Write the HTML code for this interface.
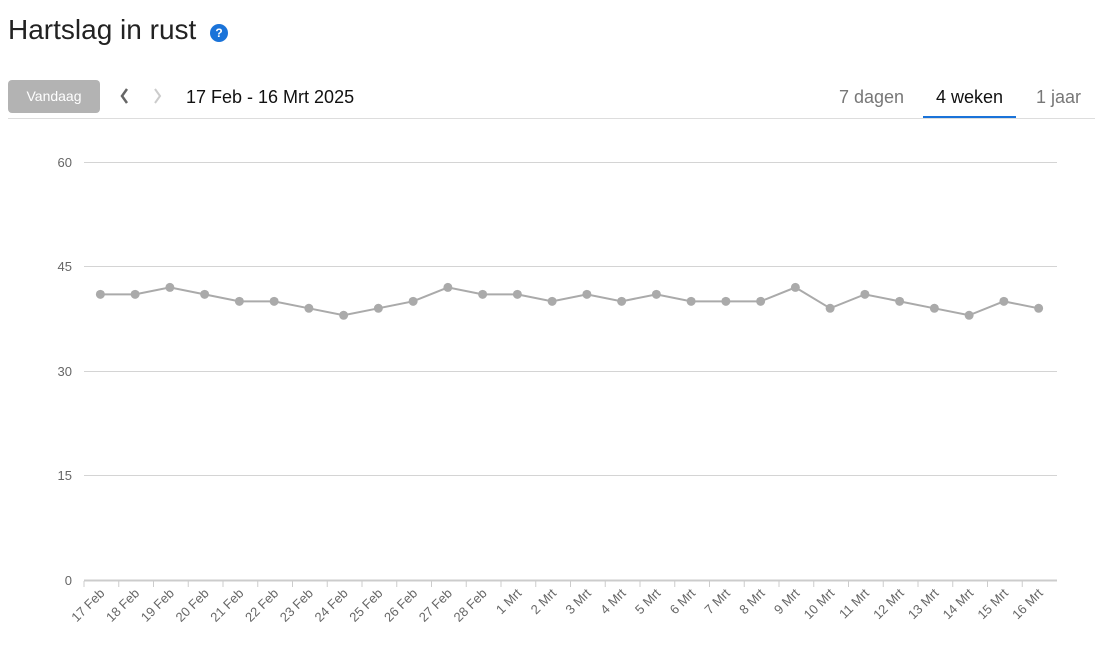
<!DOCTYPE html>
<html><head><meta charset="utf-8"><style>
body{margin:0;width:1095px;height:645px;background:#fff;font-family:"Liberation Sans",sans-serif;position:relative;overflow:hidden}
.t{position:absolute;left:8px;top:14px;font-size:28px;color:#222;font-weight:normal}
.q{position:absolute;left:210px;top:24px;width:18px;height:18px;border-radius:50%;background:#1a73d9;color:#fff;font-size:12px;font-weight:bold;text-align:center;line-height:18px}
.btn{position:absolute;left:8px;top:80px;width:92px;height:33px;border-radius:4px;background:#b3b3b3;color:#fff;font-size:14px;text-align:center;line-height:33px}
.d{position:absolute;left:186px;top:87px;font-size:18px;color:#111}
.tab{position:absolute;top:87px;font-size:18px;color:#777}
.line{position:absolute;left:8px;top:118px;width:1087px;height:1px;background:#ddd}
.ul{position:absolute;left:923px;top:116px;width:93px;height:2px;background:#1a73d9}
</style></head><body>
<div class="t">Hartslag in rust</div><div class="q">?</div>
<div class="btn">Vandaag</div>
<svg width="60" height="30" style="position:absolute;left:110px;top:82px">
<polyline points="17,7 12,14 17,21" fill="none" stroke="#666" stroke-width="2.5"/>
<polyline points="45,7 50,14 45,21" fill="none" stroke="#ccc" stroke-width="2"/>
</svg>
<div class="d">17 Feb - 16 Mrt 2025</div>
<div class="tab" style="left:839px">7 dagen</div>
<div class="tab" style="left:936px;color:#111">4 weken</div>
<div class="tab" style="left:1036px">1 jaar</div>
<div class="line"></div><div class="ul"></div>
<svg width="1095" height="645" style="position:absolute;left:0;top:0" font-family="Liberation Sans, sans-serif">
<g stroke="#d4d4d4" stroke-width="1">
<line x1="84" y1="162.5" x2="1057" y2="162.5"/><line x1="84" y1="266.5" x2="1057" y2="266.5"/><line x1="84" y1="371.5" x2="1057" y2="371.5"/><line x1="84" y1="475.5" x2="1057" y2="475.5"/>
<line x1="84" y1="580.5" x2="1057" y2="580.5" stroke="#ccc" stroke-width="2"/>
</g>
<g font-size="13" fill="#666" text-anchor="end">
<text x="72" y="167">60</text><text x="72" y="271">45</text><text x="72" y="376">30</text><text x="72" y="480">15</text><text x="72" y="585">0</text>
</g>
<g id="g"></g>
</svg>
<script>
var d=[41,41,42,41,40,40,39,38,39,40,42,41,41,40,41,40,41,40,40,40,42,39,41,40,39,38,40,39];
var lab=[];for(var i=17;i<=28;i++)lab.push(i+" Feb");for(var i=1;i<=16;i++)lab.push(i+" Mrt");
var s="",w=973/28,pts=[];
for(var i=0;i<28;i++){var tx=84+i*w;s+='<line x1="'+tx+'" y1="581" x2="'+tx+'" y2="587" stroke="#ccc"/>';
var cx=84+w/2+i*w-1,cy=580-d[i]*418/60;pts.push(cx+","+cy);
s+='<text transform="translate('+(cx+5)+',594) rotate(-45)" text-anchor="end" font-size="13" fill="#666">'+lab[i]+'</text>';}
s+='<polyline points="'+pts.join(" ")+'" fill="none" stroke="#aaa" stroke-width="2"/>';
pts.forEach(function(p){var a=p.split(",");s+='<circle cx="'+a[0]+'" cy="'+a[1]+'" r="4.5" fill="#aaa"/>';});
document.getElementById("g").innerHTML=s;
</script>
</body></html>
